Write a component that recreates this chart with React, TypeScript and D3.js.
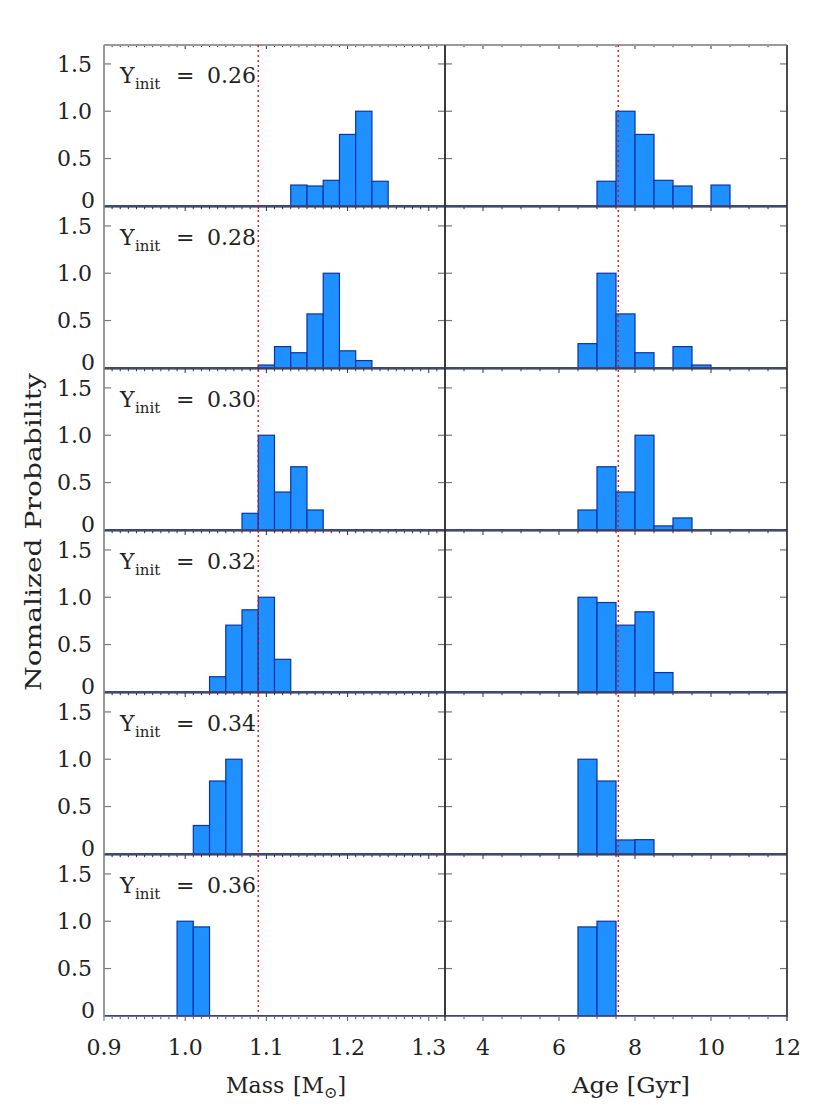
import React from "react";
import * as d3 from "d3";

// ---------- data ----------
const yInitLabels = ["0.26", "0.28", "0.30", "0.32", "0.34", "0.36"];

// mass histograms: bin width 0.02, first bin lower edge per row
const massBinWidth = 0.02;
const massStarts = [1.13, 1.09, 1.07, 1.03, 1.01, 0.99];
const massRow1 = [0.22, 0.21, 0.27, 0.755, 1.0, 0.26];
const massRow2 = [0.03, 0.225, 0.16, 0.57, 1.0, 0.18, 0.077];
const massRow3 = [0.175, 1.0, 0.4, 0.667, 0.21];
const massRow4 = [0.16, 0.705, 0.867, 1.0, 0.344];
const massRow5 = [0.3, 0.77, 1.0];
const massRow6 = [1.0, 0.94];
const massValues = [massRow1, massRow2, massRow3, massRow4, massRow5, massRow6];

// age histograms: bin width 0.5 Gyr
const ageBinWidth = 0.5;
const ageStarts = [7.0, 6.5, 6.5, 6.5, 6.5, 6.5];
const ageRow1 = [0.26, 1.0, 0.755, 0.27, 0.21, 0, 0.22];
const ageRow2 = [0.256, 1.0, 0.57, 0.16, 0, 0.225, 0.03];
const ageRow3 = [0.21, 0.667, 0.4, 1.0, 0.042, 0.126];
const ageRow4 = [1.0, 0.944, 0.705, 0.846, 0.204];
const ageRow5 = [1.0, 0.77, 0.147, 0.15];
const ageRow6 = [0.94, 1.0];
const ageValues = [ageRow1, ageRow2, ageRow3, ageRow4, ageRow5, ageRow6];

const massRef = 1.09;
const ageRef = 7.56;

const yTicks = [0, 0.5, 1.0, 1.5];
const massTicks = [0.9, 1.0, 1.1, 1.2, 1.3];
const ageTicks = [4, 6, 8, 10, 12];

// ---------- layout ----------
const W = 830;
const H = 1107;
const top = 45;
const rowH = 162;
const nRows = 6;
const leftX0 = 104;
const leftX1 = 445;
const rightX1 = 787;
const FONT = "DejaVu Serif";
const TXT = "#222";
const BAR_FILL = "#1e90ff";
const BAR_STROKE = "#0b33a3";

const xMass = d3.scaleLinear().domain([0.9, 1.32]).range([leftX0, leftX1]);
const xAge = d3.scaleLinear().domain([3, 12]).range([leftX1, rightX1]);

const massMinor = d3.range(0, 43).map((i) => 0.9 + i * 0.01);
const ageMinor = d3.range(0, 19).map((i) => 3 + i * 0.5);

function yScale(i: number) {
  return d3
    .scaleLinear()
    .domain([-0.012, 1.7])
    .range([top + rowH * (i + 1), top + rowH * i]);
}

function Panel({
  row,
  x,
  starts,
  width,
  values,
  minor,
  major,
}: {
  row: number;
  x: d3.ScaleLinear<number, number>;
  starts: number[];
  width: number;
  values: number[][];
  minor: number[];
  major: number[];
}) {
  const y = yScale(row);
  const [x0, x1] = x.range();
  const yTop = y.range()[1];
  const yBot = y.range()[0];
  const vals = values[row];
  const bars = vals.map((v, j) => ({ lo: starts[row] + j * width, v }));
  const isMajor = (t: number) => major.some((m) => Math.abs(m - t) < 1e-6);
  return (
    <g>
      {bars
        .filter((b) => b.v > 0)
        .map((b, j) => (
          <rect
            key={j}
            x={x(b.lo)}
            y={y(b.v)}
            width={x(b.lo + width) - x(b.lo)}
            height={y(0) - y(b.v)}
            fill={BAR_FILL}
            stroke={BAR_STROKE}
            strokeWidth={1.2}
          />
        ))}
      {/* histogram zero line */}
      <line x1={x0} x2={x1} y1={y(0)} y2={y(0)} stroke="#3b4585" strokeWidth={1.6} />
      {/* top ticks */}
      {minor
        .filter((t) => x(t) > x0 + 0.5 && x(t) < x1 - 0.5)
        .map((t, k) => (
          <line
            key={"t" + k}
            x1={x(t)}
            x2={x(t)}
            y1={yTop}
            y2={yTop + (isMajor(t) ? 4 : 2.2)}
            stroke="#333"
            strokeWidth={1}
          />
        ))}
      {/* y ticks both sides */}
      {yTicks
        .filter((t) => t > 0)
        .map((t, k) => (
          <g key={"y" + k}>
            <line x1={x0} x2={x0 + 7} y1={y(t)} y2={y(t)} stroke="#777" strokeWidth={1.2} />
            <line x1={x1 - 7} x2={x1} y1={y(t)} y2={y(t)} stroke="#777" strokeWidth={1.2} />
          </g>
        ))}
      {/* frame */}
      <line x1={x0} x2={x0} y1={yTop} y2={yBot} stroke={x0 === leftX0 ? "#8c8c8c" : "#333"} strokeWidth={1.3} />
      <line x1={x1} x2={x1} y1={yTop} y2={yBot} stroke="#333" strokeWidth={1.3} />
      <line
        x1={x0}
        x2={x1}
        y1={yTop}
        y2={yTop}
        stroke={row === 0 ? "#9a9a9a" : "#1f2040"}
        strokeWidth={row === 0 ? 1.8 : 1.2}
      />
    </g>
  );
}

export default function App() {
  const lastBottom = top + rowH * nRows;
  return (
    <svg
      width={W}
      height={H}
      style={{ position: "absolute", left: 0, top: 0, background: "#fff" }}
      fontFamily={FONT}
    >
      <rect x={0} y={0} width={W} height={H} fill="#fff" />
      {d3.range(nRows).map((i) => (
        <g key={i}>
          <Panel row={i} x={xMass} starts={massStarts} width={massBinWidth} values={massValues} minor={massMinor} major={massTicks.concat([0.9])} />
          <Panel row={i} x={xAge} starts={ageStarts} width={ageBinWidth} values={ageValues} minor={ageMinor} major={ageTicks.concat([2])} />
          {/* y tick labels */}
          {yTicks.map((t) => {
            const y = yScale(i);
            const cy = t === 0 ? y(0) - 6 : y(t);
            return (
              <text
                key={t}
                x={t === 0 ? 95 : 92}
                y={cy}
                dy="0.36em"
                textAnchor="end"
                fontSize={22}
                fill={TXT}
              >
                {t === 0 ? "0" : d3.format(".1f")(t)}
              </text>
            );
          })}
          {/* Y_init annotation */}
          <text y={yScale(i).range()[1] + 38} fontSize={22} fill={TXT}>
            <tspan x={120}>Y</tspan>
            <tspan x={135} dy={6} fontSize={15}>
              init
            </tspan>
            <tspan x={176} dy={-6}>
              =
            </tspan>
            <tspan x={207}>{yInitLabels[i]}</tspan>
          </text>
        </g>
      ))}
      {/* bottom ticks on last panel */}
      {massMinor
        .filter((t) => xMass(t) > leftX0 + 0.5 && xMass(t) < leftX1 - 0.5)
        .map((t, k) => (
          <line
            key={"mb" + k}
            x1={xMass(t)}
            x2={xMass(t)}
            y1={lastBottom}
            y2={lastBottom + (massTicks.some((m) => Math.abs(m - t) < 1e-6) ? 4 : 2.2)}
            stroke="#555"
          />
        ))}
      {ageMinor
        .filter((t) => xAge(t) > leftX1 + 0.5 && xAge(t) < rightX1 - 0.5)
        .map((t, k) => (
          <line
            key={"ab" + k}
            x1={xAge(t)}
            x2={xAge(t)}
            y1={lastBottom}
            y2={lastBottom + (ageTicks.includes(t) ? 4 : 2.2)}
            stroke="#555"
          />
        ))}
      <line x1={leftX0} x2={leftX0} y1={top} y2={lastBottom + 4} stroke="#8c8c8c" strokeWidth={1.3} />
      <line x1={leftX1} x2={leftX1} y1={top} y2={lastBottom + 4} stroke="#333" strokeWidth={1.3} />
      <line x1={rightX1} x2={rightX1} y1={top} y2={lastBottom + 4} stroke="#333" strokeWidth={1.3} />
      {/* reference dotted lines */}
      <line
        x1={xMass(massRef)}
        x2={xMass(massRef)}
        y1={top}
        y2={lastBottom - 1}
        stroke="#ff0000"
        strokeWidth={1.3}
        strokeDasharray="2,3"
      />
      <line
        x1={xAge(ageRef)}
        x2={xAge(ageRef)}
        y1={top}
        y2={lastBottom - 1}
        stroke="#ff0000"
        strokeWidth={1.3}
        strokeDasharray="2,3"
      />
      {/* x tick labels */}
      {massTicks.map((t) => (
        <text key={"ml" + t} x={xMass(t)} y={1055} textAnchor="middle" fontSize={22} fill={TXT}>
          {d3.format(".1f")(t)}
        </text>
      ))}
      {ageTicks.map((t) => (
        <text key={"al" + t} x={xAge(t)} y={1055} textAnchor="middle" fontSize={22} fill={TXT}>
          {String(t)}
        </text>
      ))}
      {/* axis titles */}
      <text x={226} y={1093} fontSize={22} fill={TXT}>
        <tspan>Mass</tspan>
        <tspan x={293}>[M</tspan>
        <tspan fontSize={16} dy={5}>
          ⊙
        </tspan>
        <tspan dy={-5}>]</tspan>
      </text>
      <text x={572} y={1093} fontSize={22} fill={TXT} textLength={118} lengthAdjust="spacingAndGlyphs">
        Age [Gyr]
      </text>
      <text
        transform={`translate(41, 532) rotate(-90)`}
        textAnchor="middle"
        fontSize={22}
        fill={TXT}
        textLength={318}
        lengthAdjust="spacingAndGlyphs"
      >
        Nomalized Probability
      </text>
    </svg>
  );
}
